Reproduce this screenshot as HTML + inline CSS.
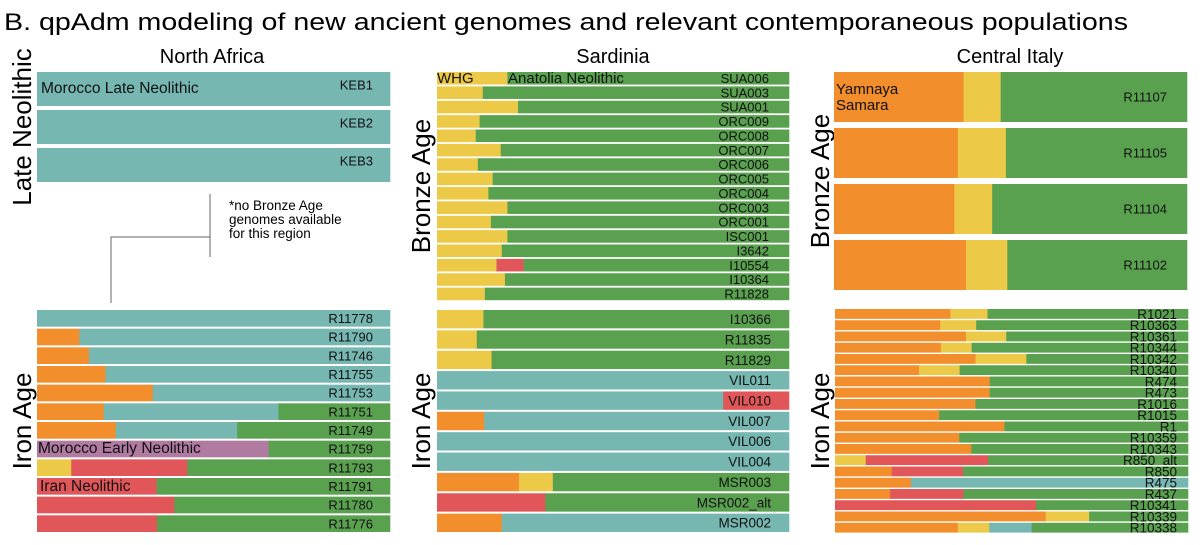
<!DOCTYPE html>
<html><head><meta charset="utf-8"><style>
html,body{margin:0;padding:0;background:#fff}
svg{display:block;font-family:"Liberation Sans",Arial,sans-serif}
</style></head><body>
<svg id="chart" width="1200" height="545" viewBox="0 0 1200 545">
<text x="4" y="30" font-size="24" fill="#000" textLength="1124" lengthAdjust="spacingAndGlyphs">B. qpAdm modeling of new ancient genomes and relevant contemporaneous populations</text>
<text x="212" y="63" font-size="20" text-anchor="middle">North Africa</text>
<text x="613" y="63" font-size="20" text-anchor="middle">Sardinia</text>
<text x="1010" y="63" font-size="20" text-anchor="middle">Central Italy</text>
<text transform="translate(31,127) rotate(-90)" font-size="26" text-anchor="middle">Late Neolithic</text>
<text transform="translate(31,421) rotate(-90)" font-size="26" text-anchor="middle">Iron Age</text>
<text transform="translate(430,186) rotate(-90)" font-size="26" text-anchor="middle">Bronze Age</text>
<text transform="translate(430,421) rotate(-90)" font-size="26" text-anchor="middle">Iron Age</text>
<text transform="translate(829,181) rotate(-90)" font-size="26" text-anchor="middle">Bronze Age</text>
<text transform="translate(829,421) rotate(-90)" font-size="26" text-anchor="middle">Iron Age</text>
<g stroke="#666" stroke-width="1" fill="none">
<path d="M210 194 V257 M210 237 H111 V303"/>
</g>
<g font-size="13.5" fill="#000">
<text x="229" y="210">*no Bronze Age</text>
<text x="229" y="224">genomes available</text>
<text x="229" y="238">for this region</text>
</g>
<g id="bars"></g>
<g id="overlay" font-size="15" fill="#111">
<text x="41" y="93" font-size="15.5">Morocco Late Neolithic</text>
<text x="38" y="453" font-size="15.5">Morocco Early Neolithic</text>
<text x="40" y="491" font-size="15.5">Iran Neolithic</text>
<text x="437" y="83" font-size="15">WHG</text>
<text x="508" y="83" font-size="15">Anatolia Neolithic</text>
<text x="836" y="94" font-size="15">Yamnaya</text>
<text x="836" y="110" font-size="15">Samara</text>
</g>
</svg>
<script>
// component codes: T=teal(Morocco LN), O=orange(Yamnaya), Y=yellow(WHG), G=green(Anatolia N), R=red(Iran N), P=purple(Morocco EN)
const naLnSamples = ["KEB1","KEB2","KEB3"];
const naLnValues = [[["T",1]],[["T",1]],[["T",1]]];

const naIaSamples = ["R11778","R11790","R11746","R11755","R11753","R11751","R11749","R11759","R11793","R11791","R11780","R11776"];
const naIaValues = [
 [["T",1]],
 [["O",0.12],["T",0.88]],
 [["O",0.147],["T",0.853]],
 [["O",0.194],["T",0.806]],
 [["O",0.328],["T",0.672]],
 [["O",0.189],["T",0.495],["G",0.316]],
 [["O",0.223],["T",0.344],["G",0.433]],
 [["P",0.656],["G",0.344]],
 [["Y",0.097],["R",0.329],["G",0.574]],
 [["R",0.339],["G",0.661]],
 [["R",0.389],["G",0.611]],
 [["R",0.34],["G",0.66]]
];

const sdBaSamples = ["SUA006","SUA003","SUA001","ORC009","ORC008","ORC007","ORC006","ORC005","ORC004","ORC003","ORC001","ISC001","I3642","I10554","I10364","R11828"];
const sdBaWhg = [0.2,0.13,0.23,0.121,0.11,0.181,0.116,0.158,0.146,0.2,0.153,0.2,0.184,0.169,0.193,0.136];
const sdBaIran = [0,0,0,0,0,0,0,0,0,0,0,0,0,0.077,0,0];

const sdIaSamples = ["I10366","R11835","R11829","VIL011","VIL010","VIL007","VIL006","VIL004","MSR003","MSR002_alt","MSR002"];
const sdIaValues = [
 [["Y",0.132],["G",0.868]],
 [["Y",0.113],["G",0.887]],
 [["Y",0.155],["G",0.845]],
 [["T",1]],
 [["T",0.813],["R",0.187]],
 [["O",0.134],["T",0.866]],
 [["T",1]],
 [["T",1]],
 [["O",0.233],["Y",0.096],["G",0.671]],
 [["R",0.308],["G",0.692]],
 [["O",0.184],["T",0.816]]
];

const itBaSamples = ["R11107","R11105","R11104","R11102"];
const itBaYamnaya = [0.367,0.351,0.341,0.374];
const itBaWhg = [0.105,0.136,0.107,0.117];

const itIaSamples = ["R1021","R10363","R10361","R10344","R10342","R10340","R474","R473","R1016","R1015","R1","R10359","R10343","R850_alt","R850","R475","R437","R10341","R10339","R10338"];
const itIaValues = [
 [["O",0.327],["Y",0.105],["G",0.568]],
 [["O",0.298],["Y",0.102],["G",0.6]],
 [["O",0.371],["Y",0.114],["G",0.515]],
 [["O",0.3],["Y",0.087],["G",0.613]],
 [["O",0.398],["Y",0.144],["G",0.458]],
 [["O",0.238],["Y",0.115],["G",0.647]],
 [["O",0.438],["G",0.562]],
 [["O",0.438],["G",0.562]],
 [["O",0.398],["G",0.602]],
 [["O",0.295],["G",0.705]],
 [["O",0.48],["G",0.52]],
 [["O",0.352],["G",0.648]],
 [["O",0.386],["G",0.614]],
 [["Y",0.087],["R",0.347],["G",0.566]],
 [["O",0.161],["R",0.202],["G",0.637]],
 [["O",0.215],["T",0.785]],
 [["O",0.156],["R",0.208],["G",0.636]],
 [["R",0.57],["G",0.43]],
 [["O",0.597],["Y",0.123],["G",0.28]],
 [["O",0.348],["Y",0.089],["T",0.12],["G",0.443]]
];

const COLORS = {T:"#76b7b2",O:"#f28e2b",Y:"#edc948",G:"#59a14f",R:"#e15759",P:"#b07aa1"};
const NS = "http://www.w3.org/2000/svg";
const barsG = document.getElementById("bars");

function drawPanel(id, samples, values, x0, x1, y0, y1, gap, fs, labelPad, labelDy){
  const g = document.createElementNS(NS,"g");
  
  
  barsG.appendChild(g);
  const step = (y1-y0)/samples.length;
  const xs = v => x0 + v*(x1-x0);
  samples.forEach((name,i)=>{
    const y = y0 + i*step;
    let acc = 0;
    values[i].forEach(([c,v])=>{
      const r = document.createElementNS(NS,"rect");
      r.setAttribute("x", xs(acc));
      r.setAttribute("y", y);
      r.setAttribute("width", xs(acc+v)-xs(acc)+0.3);
      r.setAttribute("height", step-gap);
      r.setAttribute("fill", COLORS[c]);
      
      
      g.appendChild(r);
      acc += v;
    });
    const t = document.createElementNS(NS,"text");
    t.setAttribute("x", x1-labelPad);
    t.setAttribute("y", y+(step-gap)/2+fs*0.36+labelDy);
    t.setAttribute("text-anchor","end");
    t.setAttribute("font-size", fs);
    t.setAttribute("fill","#111");
    t.textContent = name;
    
    
    g.appendChild(t);
  });
}

const sdBaValues = sdBaSamples.map((s,i)=>{
  const a=[["Y",sdBaWhg[i]]];
  if(sdBaIran[i]>0) a.push(["R",sdBaIran[i]]);
  a.push(["G",1-sdBaWhg[i]-sdBaIran[i]]);
  return a;
});
const itBaValues = itBaSamples.map((s,i)=>[["O",itBaYamnaya[i]],["Y",itBaWhg[i]],["G",1-itBaYamnaya[i]-itBaWhg[i]]]);

drawPanel("north-africa-late-neolithic", naLnSamples, naLnValues, 37, 390, 72, 186, 4, 13, 17, -4);
drawPanel("north-africa-iron-age", naIaSamples, naIaValues, 37, 390, 310, 534, 2, 13, 17, 0);
drawPanel("sardinia-bronze-age", sdBaSamples, sdBaValues, 437, 789, 72, 302, 1.8, 13, 20, 0);
drawPanel("sardinia-iron-age", sdIaSamples, sdIaValues, 437, 789, 310, 534, 2, 13.5, 18, 0);
drawPanel("italy-bronze-age", itBaSamples, itBaValues, 834, 1187, 72, 296, 6, 13, 20, 0);
drawPanel("italy-iron-age", itIaSamples, itIaValues, 835, 1188, 309, 534, 1.4, 13.5, 11, 0);

document.getElementById("chart").appendChild(document.getElementById("overlay"));
</script>
</body></html>
